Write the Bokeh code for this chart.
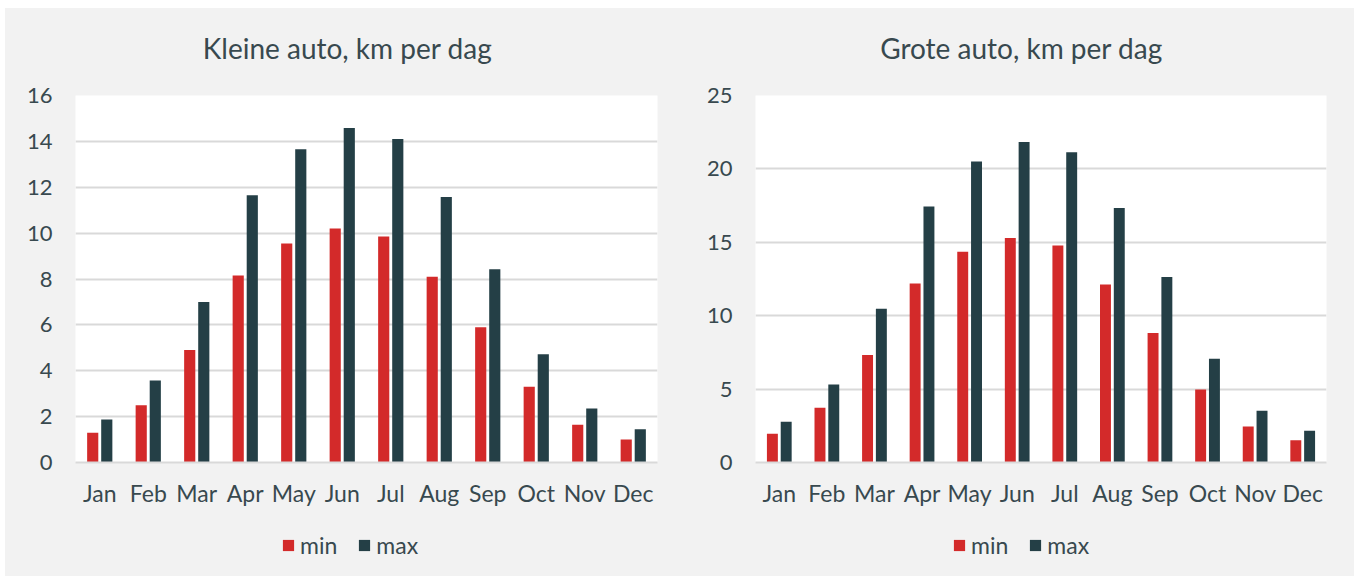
from bokeh.plotting import figure
from bokeh.models import (ColumnDataSource, FactorRange, Range1d, SingleIntervalTicker,
                          Legend, LegendItem, Label)
from bokeh.transform import dodge
from bokeh.layouts import row, column
from bokeh.embed import file_html
from bokeh.resources import INLINE

months = ["Jan", "Feb", "Mar", "Apr", "May", "Jun",
          "Jul", "Aug", "Sep", "Oct", "Nov", "Dec"]

# Kleine auto, km per dag
small_min = [1.3, 2.5, 4.9, 8.15, 9.55, 10.2, 9.85, 8.1, 5.9, 3.3, 1.65, 1.0]
small_max = [1.87, 3.57, 7.0, 11.65, 13.66, 14.58, 14.1, 11.57, 8.42, 4.72, 2.35, 1.45]

# Grote auto, km per dag
large_min = [1.95, 3.73, 7.32, 12.2, 14.35, 15.29, 14.79, 12.13, 8.82, 4.97, 2.46, 1.52]
large_max = [2.78, 5.32, 10.48, 17.44, 20.5, 21.84, 21.14, 17.33, 12.63, 7.07, 3.52, 2.17]

series_names = ["min", "max"]
titles = ["Kleine auto, km per dag", "Grote auto, km per dag"]

RED = "#d32a2a"
DARK = "#243f46"
TEXT = "#38494f"
GRID = "#d9d9d9"
PANEL = "#f2f2f2"
FONT = "Lato"


def strip(width, height, x_range=None):
    s = figure(width=width, height=height,
               x_range=x_range if x_range is not None else Range1d(0, width),
               y_range=Range1d(0, height),
               x_axis_type=None, y_axis_type=None, title=None,
               output_backend="svg", toolbar_location=None, min_border=0)
    s.background_fill_color = PANEL
    s.border_fill_color = PANEL
    s.outline_line_color = None
    s.grid.visible = False
    return s


def make_title(text, width, center_x):
    t = strip(width, 73)
    t.add_layout(Label(x=center_x, y=34, text=text, text_align="center",
                       text_baseline="middle", text_font=FONT,
                       text_font_size="28px", text_color=TEXT))
    return t


def make_chart(src, ymax, step, frame_w, left, right):
    p = figure(x_range=FactorRange(*months), y_range=Range1d(0, ymax),
               frame_width=frame_w, frame_height=367, title=None,
               output_backend="svg", toolbar_location=None,
               min_border_left=left, min_border_right=right,
               min_border_top=14, min_border_bottom=56)
    p.background_fill_color = "white"
    p.border_fill_color = PANEL
    p.outline_line_color = None

    p.vbar(x=dodge("month", -0.145, range=p.x_range), top="mn", width=0.23,
           source=src, fill_color=RED, line_color=None)
    p.vbar(x=dodge("month", 0.145, range=p.x_range), top="mx", width=0.23,
           source=src, fill_color=DARK, line_color=None)

    p.yaxis.ticker = SingleIntervalTicker(interval=step)
    p.yaxis.axis_line_color = None
    p.yaxis.major_tick_line_color = None
    p.yaxis.major_tick_out = 0
    p.yaxis.minor_tick_line_color = None
    p.yaxis.major_label_standoff = 19
    p.yaxis.major_label_text_font_size = "22px"
    p.xaxis.axis_line_color = GRID
    p.xaxis.axis_line_width = 2
    p.xaxis.major_tick_line_color = None
    p.xaxis.major_tick_out = 0
    p.xaxis.major_label_standoff = 16
    p.xaxis.major_label_text_font_size = "23px"
    for ax in (p.xaxis, p.yaxis):
        ax.major_label_text_font = FONT
        ax.major_label_text_color = TEXT

    p.xgrid.grid_line_color = None
    p.ygrid.grid_line_color = GRID
    p.ygrid.grid_line_width = 2
    return p


def make_legend(src, width, legend_x):
    # min/max key under each chart; the keyed bars themselves stay hidden here
    s = strip(width, 58, x_range=FactorRange(*months))
    r_min = s.vbar(x="month", top="mn", width=0.2, source=src,
                   fill_color=RED, line_color=None, visible=False)
    r_max = s.vbar(x="month", top="mx", width=0.2, source=src,
                   fill_color=DARK, line_color=None, visible=False)
    legend = Legend(items=[LegendItem(label=series_names[0], renderers=[r_min]),
                           LegendItem(label=series_names[1], renderers=[r_max])],
                    orientation="horizontal", location=(legend_x, 17),
                    glyph_width=14, glyph_height=14, label_standoff=5, spacing=20,
                    label_text_font=FONT, label_text_font_size="23px",
                    label_text_color=TEXT, border_line_color=None,
                    background_fill_alpha=0, inactive_fill_alpha=0,
                    margin=0, padding=0)
    s.add_layout(legend)
    return s


src_small = ColumnDataSource(dict(month=months, mn=small_min, mx=small_max))
src_large = ColumnDataSource(dict(month=months, mn=large_min, mx=large_max))

t1 = make_title(titles[0], 672, 342)
t2 = make_title(titles[1], 677, 344)
p1 = make_chart(src_small, 16, 2, 582, 70, 20)
p2 = make_chart(src_large, 25, 5, 571, 78, 28)
l1 = make_legend(src_small, 672, 276)
l2 = make_legend(src_large, 677, 275)

layout = column(row(t1, t2, spacing=0), row(p1, p2, spacing=0), row(l1, l2, spacing=0),
                spacing=0, margin=(8, 0, 0, 5), styles={"background-color": PANEL})
open("out.html", "w").write(file_html(layout, INLINE))
